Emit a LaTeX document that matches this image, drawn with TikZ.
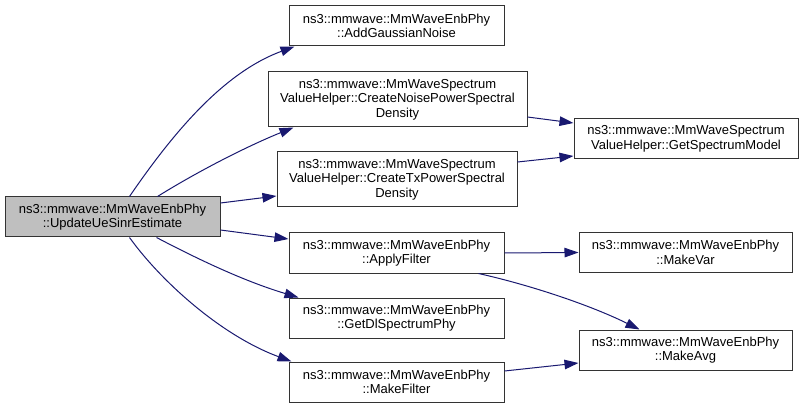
\documentclass[tikz,border=0pt]{standalone}
\usepackage{fontspec}
\setmainfont{Liberation Sans}
\usetikzlibrary{arrows.meta,calc}
\definecolor{edgeblue}{HTML}{191970}
\definecolor{boxgray}{HTML}{BFBFBF}
\definecolor{boxline}{HTML}{333333}
\begin{document}
\begin{tikzpicture}[x=1pt,y=-1pt,
  fn/.style={draw=boxline, line width=1pt, fill=white, inner sep=0pt, align=center,
             minimum width=215pt, minimum height=40pt, font=\fontsize{13}{14.5}\selectfont},
  call/.style={draw=edgeblue, line width=1pt, -{Triangle[length=14pt,width=9.5pt]}}
]
\useasboundingbox (0,0) rectangle (804,409);

\node[fn, fill=boxgray] (A) at (112.5,217) {ns3::mmwave::MmWaveEnbPhy\\::UpdateUeSinrEstimate};
\node[fn] (B) at (396.5,26) {ns3::mmwave::MmWaveEnbPhy\\::AddGaussianNoise};
\node[fn, minimum width=259pt, minimum height=55pt] (C) at (397.5,99.5) {ns3::mmwave::MmWaveSpectrum\\ValueHelper::CreateNoisePowerSpectral\\Density};
\node[fn, minimum width=240pt, minimum height=55pt] (D) at (397,179.5) {ns3::mmwave::MmWaveSpectrum\\ValueHelper::CreateTxPowerSpectral\\Density};
\node[fn] (E) at (396.5,253) {ns3::mmwave::MmWaveEnbPhy\\::ApplyFilter};
\node[fn] (F) at (396.5,318) {ns3::mmwave::MmWaveEnbPhy\\::GetDlSpectrumPhy};
\node[fn] (G) at (396.5,382) {ns3::mmwave::MmWaveEnbPhy\\::MakeFilter};
\node[fn, minimum width=224pt] (H) at (686,139) {ns3::mmwave::MmWaveSpectrum\\ValueHelper::GetSpectrumModel};
\node[fn, minimum width=213pt] (I) at (685.5,252.5) {ns3::mmwave::MmWaveEnbPhy\\::MakeVar};
\node[fn, minimum width=213pt] (J) at (685.5,350) {ns3::mmwave::MmWaveEnbPhy\\::MakeAvg};

% A -> B
\draw[call] ($(A.north west)+(125,0)$) .. controls (175,130) and (225,72) .. ($(B.south west)+(6,0)$);
% A -> C
\draw[call] ($(A.north west)+(153,0)$) .. controls (200,170) and (250,145) .. ($(C.south west)+(26,0)$);
% A -> D
\draw[call] ($(A.east)+(0,-14)$) -- ($(D.west)+(0,16.5)$);
% A -> E
\draw[call] ($(A.east)+(0,13)$) -- ($(E.west)+(0,-14)$);
% A -> F
\draw[call] ($(A.south west)+(152,0)$) .. controls (190,255) and (240,280) .. ($(F.north west)+(10,0)$);
% A -> G
\draw[call] ($(A.south west)+(125,0)$) .. controls (160,280) and (220,335) .. ($(G.north west)+(3,0)$);
% C -> H
\draw[call] ($(C.east)+(0,17.5)$) -- ($(H.west)+(0,-16)$);
% D -> H
\draw[call] ($(D.east)+(0,-17.5)$) -- ($(H.west)+(0,17)$);
% E -> I
\draw[call] (E.east) -- (I.west);
% E -> J
\draw[call] ($(E.south east)+(-26,0)$) .. controls (530,285) and (590,305) .. ($(J.north west)+(61,0)$);
% G -> J
\draw[call] ($(G.east)+(0,-11)$) -- ($(J.west)+(0,13)$);
\end{tikzpicture}
\end{document}
